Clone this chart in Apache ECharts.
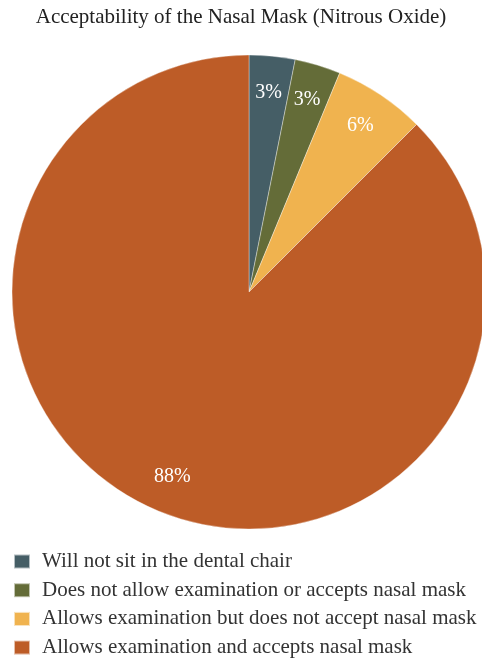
<!DOCTYPE html>
<html>
<head>
<meta charset="utf-8">
<script src="https://cdn.jsdelivr.net/npm/echarts@6/dist/echarts.min.js"></script>
<style>
  html, body { margin: 0; padding: 0; background: #fff; }
  #main { width: 482px; height: 658px; }
</style>
</head>
<body>
<div id="main"></div>
<script>
// slice categories and counts (3%, 3%, 6%, 88%)
const categories = [
  'Will not sit in the dental chair',
  'Does not allow examination or accepts nasal mask',
  'Allows examination but does not accept nasal mask',
  'Allows examination and accepts nasal mask'
]
const counts = [1, 1, 2, 28]
const colors = ['#455e66', '#646c38', '#f0b34f', '#bd5c27']

const myChart = echarts.init(document.getElementById('main'))
const fontFam = '"Liberation Serif", "DejaVu Serif", serif'
const pieData = categories.map((c, i) => ({ name: c, value: counts[i] }))
const total = counts.reduce((a, b) => a + b, 0)

const option = {
  color: colors,
  animation: false,
  title: {
    text: 'Acceptability of the Nasal Mask (Nitrous Oxide)',
    left: 'center',
    top: 2,
    textStyle: { fontFamily: fontFam, fontSize: 21, fontWeight: 'normal', color: '#222' }
  },
  legend: {
    orient: 'vertical',
    left: 13,
    top: 551,
    height: 200,
    padding: 0,
    icon: 'rect',
    itemWidth: 16,
    itemHeight: 14,
    itemGap: 7.7,
    data: categories,
    textStyle: { fontFamily: fontFam, fontSize: 21, color: '#333', padding: [0, 0, 0, 7] }
  },
  series: [
    {
      type: 'pie',
      center: [249, 292],
      radius: [0, 237],
      startAngle: 90,
      data: pieData,
      itemStyle: { borderColor: 'rgba(255,255,255,0.6)', borderWidth: 0.6 },
      label: { show: false },
      labelLine: { show: false },
      emphasis: { disabled: true }
    },
    {
      // transparent ring used only to place the percentage labels near the rim
      type: 'pie',
      center: [249, 292],
      radius: [158, 237],
      startAngle: 90,
      silent: true,
      data: pieData,
      itemStyle: { color: 'rgba(0,0,0,0)' },
      label: {
        show: true,
        position: 'inside',
        formatter: (p) => Math.round(p.value / total * 100) + '%',
        fontFamily: fontFam,
        fontSize: 20,
        color: '#fff'
      },
      labelLine: { show: false },
      emphasis: { disabled: true }
    }
  ]
}
myChart.setOption(option)
</script>
</body>
</html>
